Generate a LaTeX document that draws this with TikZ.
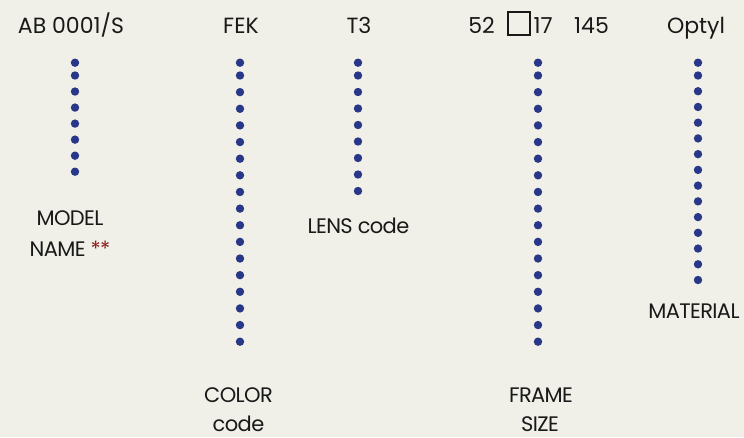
\documentclass[tikz,border=0pt]{standalone}
\usepackage{fontspec}
\setmainfont{Poppins}
\definecolor{bg}{RGB}{240,240,232}
\definecolor{dotblue}{RGB}{40,55,135}
\definecolor{ink}{RGB}{25,25,25}
\definecolor{starred}{RGB}{140,30,30}
\tikzset{
  toplabel/.style={anchor=base, text=ink, inner sep=0pt, font=\fontsize{22}{26}\selectfont},
  handlabel/.style={anchor=base, text=ink, inner sep=0pt, font=\fontsize{21}{24}\selectfont\addfontfeatures{LetterSpace=-3}},
  dotmark/.style={fill=dotblue}
}
\begin{document}
\begin{tikzpicture}[x=1pt,y=-1pt]
\fill[bg] (0,0) rectangle (744,437);
\useasboundingbox (0,0) rectangle (744,437);
% top row
\node[toplabel] (model) at (71,33) {AB 0001/S};
\node[toplabel] (color) at (241,33) {FEK};
\node[toplabel] (lens) at (359,33) {T3};
\node[toplabel, anchor=base east] (eye) at (495,33) {52};
\node[draw=ink, line width=2.4pt, minimum width=22pt, minimum height=23pt, inner sep=0pt] (sq) at (519,23.5) {};
\node[toplabel, anchor=base west] (bridge) at (533.5,33) {17};
\node[toplabel, anchor=base west] (temple) at (574,33) {145};
\node[toplabel] (mat) at (696,33) {Optyl};
% dot columns: x, last y, count
\foreach \x/\last/\n in {75/171.7/8, 240/341.7/18, 358/191/9, 538/341.7/18, 698/280/15}{
  \fill[dotblue] (\x,62.7) circle (4.2);
  \pgfmathsetmacro{\gap}{(\last-75.5)/(\n-2)}
  \foreach \i in {0,...,\numexpr\n-2\relax}{
    \fill[dotblue] (\x,75.5+\i*\gap) circle (4.2);
  }
}
% bottom labels
\node[handlabel] (modelA) at (70,225) {MODEL};
\node[handlabel] (modelB) at (70,256) {NAME \textcolor{starred}{**}};
\node[handlabel] (lensA) at (358.5,233) {LENS code};
\node[handlabel] (matA) at (694,318) {MATERIAL};
\node[handlabel] (colorA) at (238.5,402) {COLOR};
\node[handlabel] (colorB) at (238.5,431) {code};
\node[handlabel] (sizeA) at (541,402) {FRAME};
\node[handlabel] (sizeB) at (540,431) {SIZE};
\end{tikzpicture}
\end{document}
